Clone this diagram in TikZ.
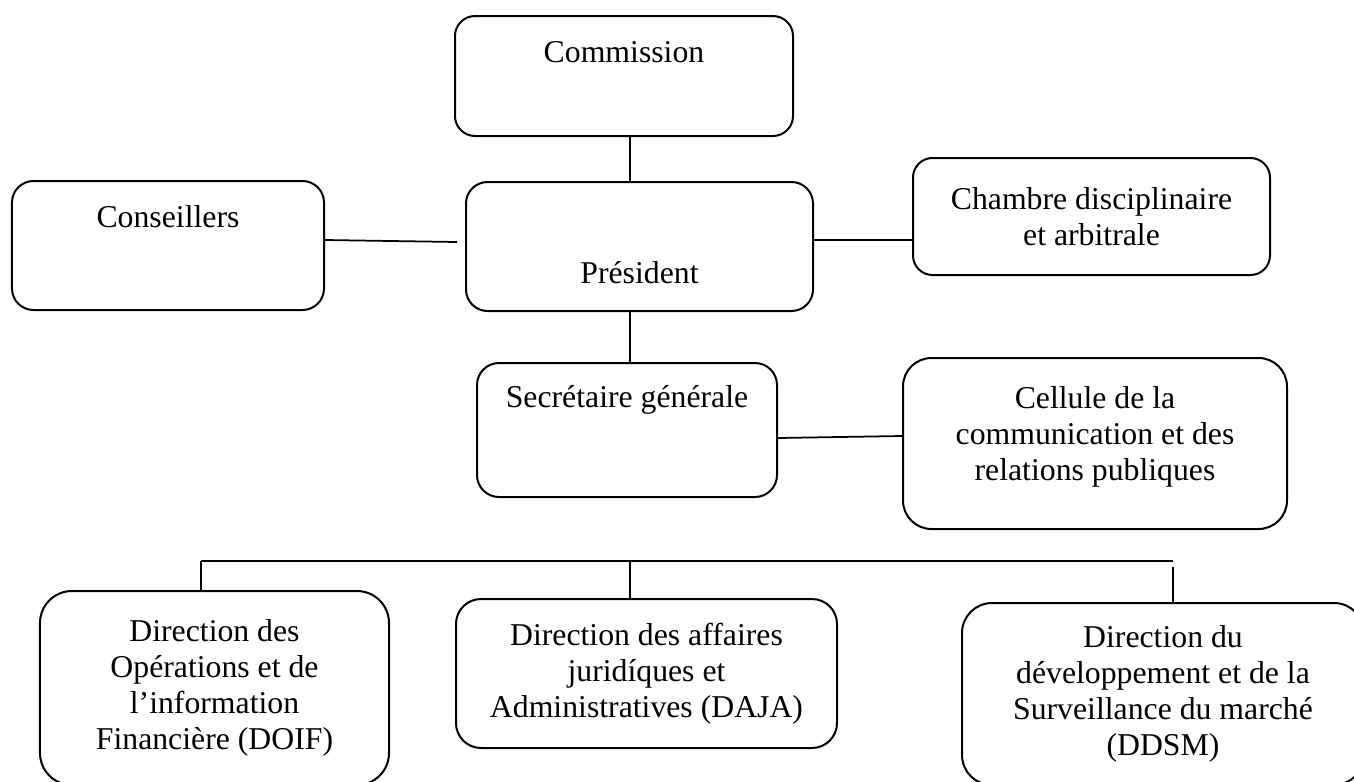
\documentclass[tikz,border=0pt]{standalone}
\usepackage{fontspec}
\setmainfont{Liberation Serif}
\usetikzlibrary{calc}

\begin{document}
\begin{tikzpicture}[
  x=0.4pt, y=-0.4pt,
  every node/.style={font=\fontsize{12.7}{14.4}\selectfont, align=center},
  box/.style={draw, line width=0.8pt, inner sep=0pt},
  link/.style={line width=0.7pt}
]
\useasboundingbox (0,0) rectangle (1354,781);
\clip (0,0) rectangle (1354,781);
\fill[white] (0,0) rectangle (1354,781);
\node[box, rounded corners=8pt, minimum width=135.2pt, text height=18.4pt, text depth=29.6pt] (com) at (624,76) {Commission};
\node[box, rounded corners=8.6pt, minimum width=124.8pt, text height=18.4pt, text depth=33.2pt] (cons) at (168,245.5) {Conseillers};
\node[box, rounded corners=8.6pt, minimum width=138.8pt, text height=40.4pt, text depth=11.2pt] (pres) at (639.5,246.5) {Président};
\node[box, rounded corners=7.8pt, minimum width=142.8pt, minimum height=46.8pt] (cham) at (1091.5,216.5) {Chambre disciplinaire\\et arbitrale};
\node[box, rounded corners=8.8pt, minimum width=120pt, text height=17.6pt, text depth=36pt] (sec) at (627,430) {Secrétaire générale};
\node[box, rounded corners=11.4pt, minimum width=153.6pt, minimum height=68.4pt] (cell) at (1095,443.5) {Cellule de la\\communication et des\\relations publiques\\[-6pt]};
\node[box, rounded corners=12.8pt, minimum width=139.6pt, minimum height=77.6pt] (doif) at (214.5,688) {Direction des\\Opérations et de\\l’information\\Financière (DOIF)};
\node[box, rounded corners=10pt, minimum width=152.4pt, minimum height=59.6pt] (daja) at (646.5,673.5) {Direction des affaires\\juridíques et\\Administratives (DAJA)};
\node[box, rounded corners=12pt, minimum width=160.8pt, minimum height=72.8pt] (ddsm) at (1163,694) {Direction du\\développement et de la\\Surveillance du marché\\(DDSM)};
\coordinate (busL) at (201,561);
\coordinate (busM) at (630,561);
\coordinate (busR) at (1173,561);
\draw[link] ($(com.south)+(6,0)$) coordinate (cp) -- (cp |- pres.north);
\draw[link] ($(cons.east)+(0,-5.5)$) -- ($(pres.west)+(-8,-4.5)$);
\draw[link] ($(pres.east)+(0,-6.5)$) coordinate (pc) -- (pc -| cham.west);
\draw[link] ($(sec.north)+(3,0)$) coordinate (ps) -- (ps |- pres.south);
\draw[link] ($(sec.east)+(0,8)$) -- ($(cell.west)+(0,-7.5)$);
\draw[link] (busL) -- (busR);
\draw[link] (busL) -- (busL |- doif.north);
\draw[link] (busM) -- (busM |- daja.north);
\draw[link] ($(busR)+(0,6)$) -- (busR |- ddsm.north);
\end{tikzpicture}
\end{document}
